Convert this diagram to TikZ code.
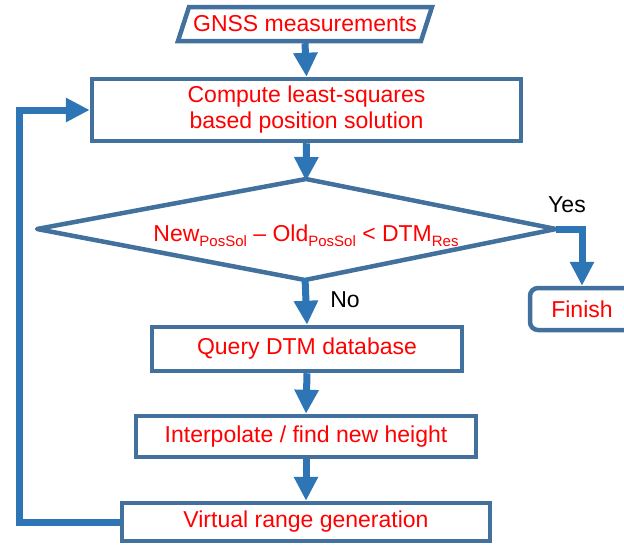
\documentclass[tikz,border=0pt]{standalone}
\usepackage{fontspec}
\setmainfont{Liberation Sans}
\usetikzlibrary{arrows.meta}
\definecolor{boxline}{HTML}{41719C}
\definecolor{flow}{HTML}{2E75B6}
\definecolor{label}{HTML}{FF0000}
\newcommand{\sub}[1]{\raisebox{-5pt}{\fontsize{15}{15}\selectfont #1}}

\begin{document}
\begin{tikzpicture}[x=1pt,y=-1pt,
  every node/.style={font=\fontsize{23}{26}\selectfont, inner sep=0pt},
  stepbox/.style={draw=boxline, line width=4.5pt, text=label, align=center},
  flowarrow/.style={draw=flow, line width=7pt, line join=miter,
    -{Triangle[width=23pt,length=24pt]}},
  answer/.style={text=black}]
\clip (0,0) rectangle (624,546);

% input: parallelogram
\coordinate (g1) at (178,41);
\coordinate (g2) at (189,7);
\coordinate (g3) at (432,7);
\coordinate (g4) at (421,41);
\draw[boxline, line width=4.5pt] (g1) -- (g2) -- (g3) -- (g4) -- cycle;
\node[text=label, minimum width=230pt, minimum height=38pt] (gnss) at (305,24) {GNSS measurements};

% processing steps
\node[stepbox, minimum width=429pt, minimum height=62pt] (lsq) at (306.5,110) {Compute least-squares\\based position solution};

% decision: diamond
\coordinate (dtop) at (306,179);
\coordinate (dright) at (556,229);
\coordinate (dbot) at (305,280);
\coordinate (dleft) at (37,229);
\draw[boxline, line width=4.5pt, line join=round] (dtop) -- (dright) -- (dbot) -- (dleft) -- cycle;
\node[text=label, anchor=base] (cond) at (306,241)
  {New\sub{PosSol} – Old\sub{PosSol} < DTM\sub{Res}};

\node[stepbox, rounded corners=8pt, minimum width=104pt, minimum height=42pt] (finish) at (582,309) {Finish};

\node[stepbox, minimum width=310pt, minimum height=44pt] (query) at (307,349) {Query DTM database};
\node[stepbox, minimum width=340pt, minimum height=41pt] (interp) at (306,436.5) {Interpolate / find new height};
\node[stepbox, minimum width=368pt, minimum height=38pt] (virtual) at (306,522) {Virtual range generation};

% connectors
\draw[flowarrow] (gnss.south) -- (lsq.north);
\draw[flowarrow] (lsq.south) -- ([yshift=-2pt]dtop);
\draw[flowarrow] ([yshift=2pt]dbot) -- (query.north);
\draw[flowarrow] (dright) -| (finish.north);
\draw[flowarrow] (query.south) -- (interp.north);
\draw[flowarrow] (interp.south) -- (virtual.north);
\coordinate (loop) at (19,0);
\draw[flowarrow] (virtual.west) -| (loop |- lsq.west) -- (lsq.west);

% branch labels
\node[answer] (yes) at (567,205) {Yes};
\node[answer] (no) at (345,300) {No};
\end{tikzpicture}
\end{document}
